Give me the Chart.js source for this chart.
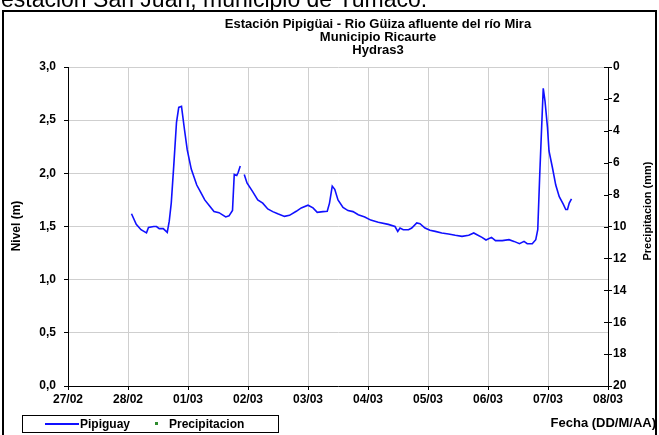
<!DOCTYPE html>
<html>
<head>
<meta charset="utf-8">
<script src="https://cdn.jsdelivr.net/npm/chart.js@4.4.1/dist/chart.umd.min.js"></script>
<style>
  html, body { margin: 0; padding: 0; background: #fff; }
  #wrap { position: relative; width: 659px; height: 435px; overflow: hidden; }
  canvas { display: block; }
</style>
</head>
<body>
<div id="wrap"><canvas id="c" width="659" height="435"></canvas></div>
<script>
// Hours elapsed since 27/02 00:00
const horas = [
  25.4, 27.3, 29.2, 31.4, 32.2, 34.3, 35.4, 36.5, 38.1, 39.7, 40.5, 41.3, 42.3, 43.4, 44.3, 45.4,
  46.6, 47.7, 49.3, 51.5, 53.1, 54.7, 56.4, 58.4, 60.4, 61.8, 63.1, 64.4, 65.8, 66.5, 67.5, 68.1,
  68.9, 69.7, 70.5, 71.6, 73.8, 75.9, 77.9, 79.9, 81.9, 83.9, 86.6, 88.6, 91.3, 93.3, 96.0, 98.0,
  99.7, 102.0, 103.7, 104.6, 105.7, 106.7, 108.0, 110.0, 112.0, 114.0, 116.1, 118.7, 121.1, 124.1,
  128.1, 130.8, 131.9, 132.8, 134.1, 136.2, 137.5, 139.5, 140.8, 142.8, 144.8, 146.9, 149.5, 152.2,
  154.9, 157.6, 160.3, 162.3, 163.6, 165.6, 167.2, 169.4, 171.0, 173.7, 176.4, 178.4, 180.6, 182.4,
  183.7, 185.7, 187.1, 187.9, 188.7, 189.5, 190.1, 190.8, 191.8, 192.4, 193.8, 195.1, 196.5, 198.1,
  199.1, 199.8, 200.5, 201.4
];
// River level (m) at Pipiguay; null marks a gap in the record
const nivelPipiguay = [
  1.62, 1.52, 1.47, 1.44, 1.49, 1.50, 1.50, 1.48, 1.48, 1.445, 1.55, 1.72, 2.07, 2.48, 2.62, 2.63,
  2.41, 2.22, 2.04, 1.89, 1.82, 1.75, 1.70, 1.64, 1.63, 1.61, 1.59, 1.60, 1.65, 1.99, 1.98, 2.01,
  2.07, null, 1.99, 1.91, 1.83, 1.75, 1.72, 1.665, 1.64, 1.62, 1.595, 1.605, 1.643, 1.675, 1.70, 1.675,
  1.633, 1.64, 1.643, 1.72, 1.88, 1.85, 1.75, 1.68, 1.65, 1.64, 1.61, 1.59, 1.56, 1.54,
  1.52, 1.50, 1.454, 1.486, 1.47, 1.47, 1.486, 1.533, 1.527, 1.486, 1.464, 1.454, 1.439, 1.43,
  1.417, 1.407, 1.417, 1.439, 1.423, 1.398, 1.373, 1.398, 1.367, 1.367, 1.376, 1.36, 1.338, 1.36,
  1.338, 1.338, 1.376, 1.47, 1.99, 2.46, 2.80, 2.68, 2.43, 2.21, 2.05, 1.89, 1.78, 1.71,
  1.66, 1.66, 1.72, 1.76
];
// Precipitation (mm): no readings in this period
const horasPrecip = [];
const precipitacion = [];
// Day labels on the date axis
const fechas = ['27/02', '28/02', '01/03', '02/03', '03/03', '04/03', '05/03', '06/03', '07/03', '08/03'];

const serieNivel = horas.map((h, i) => ({ x: h, y: nivelPipiguay[i] }));
const seriePrecip = horasPrecip.map((h, i) => ({ x: h, y: precipitacion[i] }));

const FONT = '"Liberation Sans", Arial, sans-serif';

const decor = {
  id: 'decor',
  beforeDraw(chart) {
    const ctx = chart.ctx;
    ctx.save();
    ctx.fillStyle = '#fff';
    ctx.fillRect(0, 0, chart.width, chart.height);
    ctx.restore();
  },
  afterDraw(chart) {
    const ctx = chart.ctx;
    ctx.save();
    // heading text above the frame
    ctx.fillStyle = '#000';
    ctx.font = '23px ' + FONT;
    ctx.textAlign = 'left';
    ctx.textBaseline = 'alphabetic';
    ctx.fillText('estación San Juan, municipio de Tumaco.', 1, 7);

    // outer frame
    ctx.strokeStyle = '#000';
    ctx.lineWidth = 2;
    ctx.strokeRect(3, 11, 653, 440);

    // chart title
    ctx.font = 'bold 13px ' + FONT;
    ctx.textAlign = 'center';
    ctx.textBaseline = 'middle';
    ctx.fillText('Estación Pipigüai - Rio Güiza afluente del río Mira', 378, 24);
    ctx.fillText('Municipio Ricaurte', 378, 37);
    ctx.fillText('Hydras3', 378, 50);

    // axis titles
    ctx.save();
    ctx.translate(17, 226);
    ctx.rotate(-Math.PI / 2);
    ctx.font = 'bold 12px ' + FONT;
    ctx.fillText('Nivel (m)', 0, 0);
    ctx.restore();

    ctx.save();
    ctx.translate(648, 211);
    ctx.rotate(-Math.PI / 2);
    ctx.font = 'bold 11px ' + FONT;
    ctx.fillText('Precipitacion (mm)', 0, 0);
    ctx.restore();

    ctx.font = 'bold 13px ' + FONT;
    ctx.textAlign = 'right';
    ctx.fillText('Fecha (DD/M/AA)', 656, 423);

    // inner halves of the right-axis tick marks
    const y2 = chart.scales.y2;
    ctx.strokeStyle = '#000';
    ctx.lineWidth = 1;
    y2.ticks.forEach(t => {
      const py = Math.round(y2.getPixelForValue(t.value)) + 0.5;
      ctx.beginPath();
      ctx.moveTo(y2.left - 4, py);
      ctx.lineTo(y2.left, py);
      ctx.stroke();
    });

    // legend
    ctx.lineWidth = 1;
    ctx.strokeStyle = '#000';
    ctx.strokeRect(22.5, 415.5, 256, 17);
    const dsN = chart.data.datasets[0];
    const dsP = chart.data.datasets[1];
    ctx.strokeStyle = dsN.borderColor;
    ctx.lineWidth = 2;
    ctx.beginPath();
    ctx.moveTo(45, 424);
    ctx.lineTo(79, 424);
    ctx.stroke();
    ctx.fillStyle = dsP.backgroundColor;
    ctx.fillRect(155, 422, 3, 3);
    ctx.fillStyle = '#000';
    ctx.font = 'bold 12px ' + FONT;
    ctx.textAlign = 'left';
    ctx.fillText(dsN.label, 80, 424.5);
    ctx.fillText(dsP.label, 169, 424.5);
    ctx.restore();
  }
};

new Chart(document.getElementById('c'), {
  type: 'line',
  data: {
    datasets: [
      {
        label: 'Pipiguay',
        data: serieNivel,
        yAxisID: 'y',
        borderColor: '#1010ff',
        backgroundColor: '#1010ff',
        borderWidth: 1.6,
        pointRadius: 0,
        tension: 0,
        spanGaps: false
      },
      {
        label: 'Precipitacion',
        data: seriePrecip,
        yAxisID: 'y2',
        showLine: false,
        borderColor: '#2e8b2e',
        backgroundColor: '#2e8b2e',
        pointStyle: 'rect',
        pointRadius: 1.5
      }
    ]
  },
  options: {
    responsive: false,
    animation: false,
    devicePixelRatio: 1,
    layout: { padding: { top: 67, right: 0, bottom: 0, left: 0 } },
    plugins: {
      legend: { display: false },
      title: { display: false },
      tooltip: { enabled: false }
    },
    scales: {
      x: {
        type: 'linear',
        min: 0,
        max: 216,
        afterFit(s) { s.height = 49; },
        afterBuildTicks(s) {
          s.ticks = fechas.map((_, i) => ({ value: i * 24 }));
        },
        ticks: {
          autoSkip: false,
          maxRotation: 0,
          padding: 2,
          color: '#000',
          font: { family: FONT, size: 12, weight: 'bold' },
          callback: (v) => fechas[Math.round(v / 24)]
        },
        grid: { color: '#cfcfcf', lineWidth: 1, tickColor: '#000', tickLength: 4 },
        border: { color: '#000', width: 1 }
      },
      y: {
        position: 'left',
        min: 0,
        max: 3,
        afterFit(s) { s.width = 68; },
        ticks: {
          stepSize: 0.5,
          padding: 8,
          color: '#000',
          font: { family: FONT, size: 12, weight: 'bold' },
          callback: (v) => v.toFixed(1).replace('.', ',')
        },
        grid: { color: '#cfcfcf', lineWidth: 1, tickColor: '#000', tickLength: 4 },
        border: { color: '#000', width: 1 }
      },
      y2: {
        position: 'right',
        reverse: true,
        min: 0,
        max: 20,
        afterFit(s) { s.width = 51; },
        ticks: {
          stepSize: 2,
          padding: 1,
          color: '#000',
          font: { family: FONT, size: 12, weight: 'bold' }
        },
        grid: { drawOnChartArea: false, tickColor: '#000', tickLength: 4 },
        border: { color: '#000', width: 1 }
      }
    }
  },
  plugins: [decor]
});
</script>
</body>
</html>
